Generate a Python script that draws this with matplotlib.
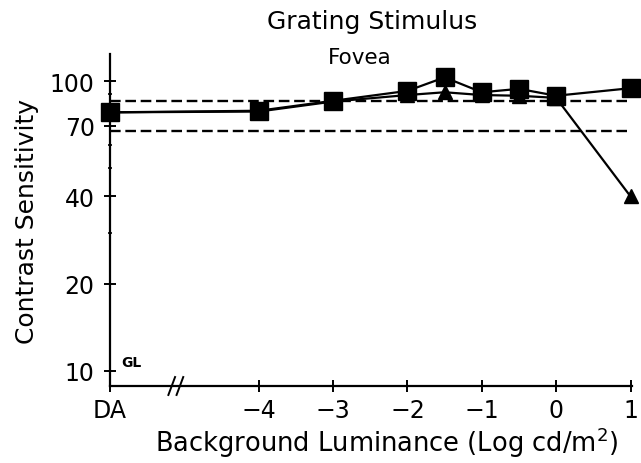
import matplotlib
matplotlib.use("Agg")
import matplotlib.pyplot as plt
from matplotlib.ticker import FixedLocator, NullFormatter

plt.rcParams['font.family'] = ['DejaVu Sans']

# Background luminance (log cd/m^2); dark-adapted (DA) plotted at -6
luminance = [-6, -4, -3, -2, -1.5, -1, -0.5, 0, 1]
squares = [78, 79, 85.5, 92.5, 103, 91.5, 94, 89, 94.5]
triangles = [78, 78.5, 85, 89.5, 91.5, 89.5, 89, 87.5, 40]
norm_upper = 85.5
norm_lower = 67

xtick_pos = [-6, -4, -3, -2, -1, 0, 1]
xtick_labels = ['DA', '\u22124', '\u22123', '\u22122', '\u22121', '0', '1']
ytick_pos = [10, 20, 40, 70, 100]
ytick_labels = ['10', '20', '40', '70', '100']
yminor_pos = [30, 50, 60, 80, 90]

fig = plt.figure(figsize=(6.41, 4.64), dpi=100)
ax = fig.add_axes([110 / 641, 77 / 464, 522 / 641, 332 / 464])
ax.set_yscale('log')
ax.set_xlim(-6, 1.02)
ax.set_ylim(8.87, 124)

for s in ('top', 'right'):
    ax.spines[s].set_visible(False)
for s in ('left', 'bottom'):
    ax.spines[s].set_linewidth(1.6)

# normal-range limits
for level in (norm_upper, norm_lower):
    ax.plot([-6, 0.95], [level, level], color='black', lw=1.7,
            dashes=(4.5, 2), zorder=1)

ax.plot(luminance, triangles, color='black', lw=1.6, marker='^',
        markersize=10.5, clip_on=False, zorder=3)
ax.plot(luminance, squares, color='black', lw=1.6, marker='s',
        markersize=13, clip_on=False, zorder=4)

ax.xaxis.set_major_locator(FixedLocator(xtick_pos))
ax.set_xticklabels(xtick_labels)
ax.yaxis.set_major_locator(FixedLocator(ytick_pos))
ax.set_yticklabels(ytick_labels)
ax.yaxis.set_minor_locator(FixedLocator(yminor_pos))
ax.yaxis.set_minor_formatter(NullFormatter())

ax.tick_params(axis='y', which='major', direction='inout', length=8,
               width=1.4, labelsize=17, pad=7)
ax.tick_params(axis='x', which='major', direction='inout', length=9,
               width=1.4, labelsize=17, pad=4)
ax.tick_params(axis='y', which='minor', direction='inout', length=3, width=1.2)

# axis break between DA and -4
xt = ax.get_xaxis_transform()
for xb in (-5.17, -5.06):
    ax.plot([xb - 0.045, xb + 0.045], [-0.027, 0.027], color='black', lw=1.4,
            transform=xt, clip_on=False)

ax.text(-5.85, 10.75, 'GL', fontsize=10, fontweight='bold', ha='left', va='center')

ax.set_xlabel('Background Luminance (Log cd/m$^{2}$)', fontsize=18.5)
ax.xaxis.set_label_coords(0.529, -0.115)
ax.set_ylabel('Contrast Sensitivity', fontsize=18, labelpad=8)

fig.text(372 / 641, 1 - 22 / 464, 'Grating Stimulus', fontsize=18,
         ha='center', va='center')
fig.text(360 / 641, 1 - 58 / 464, 'Fovea', fontsize=15.5,
         ha='center', va='center')

fig.savefig('out.png', dpi=100)
